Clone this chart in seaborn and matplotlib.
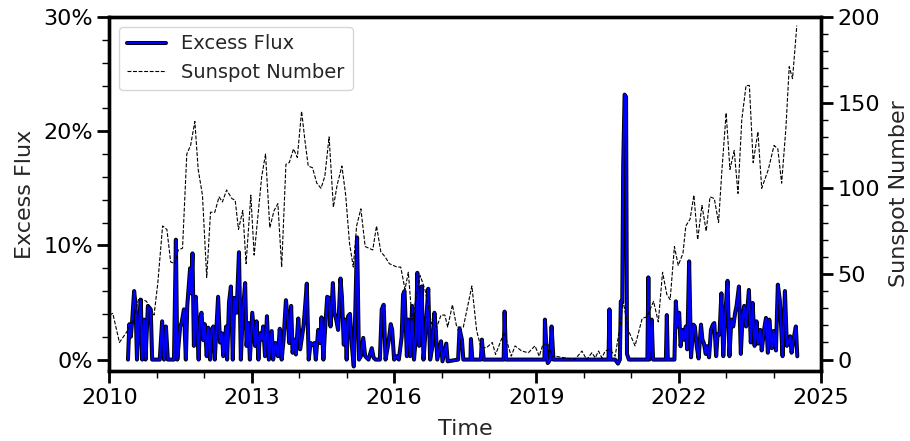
import numpy as np
import pandas as pd
import matplotlib
matplotlib.use("Agg")
import matplotlib.pyplot as plt
import matplotlib.ticker as mticker
import matplotlib.patheffects as pe
import seaborn as sns

# Excess flux (percent) versus decimal year
flux_time = [
    2010.39, 2010.42, 2010.45, 2010.48, 2010.52, 2010.55, 2010.58, 2010.61, 2010.66, 2010.69,
    2010.73, 2010.76, 2010.81, 2010.87, 2010.90, 2011.06, 2011.11, 2011.15, 2011.19, 2011.23,
    2011.36, 2011.40, 2011.43, 2011.49, 2011.52, 2011.57, 2011.61, 2011.64, 2011.67, 2011.70,
    2011.72, 2011.75, 2011.78, 2011.82, 2011.85, 2011.88, 2011.91, 2011.94, 2011.98, 2012.01,
    2012.05, 2012.08, 2012.12, 2012.15, 2012.19, 2012.22, 2012.29, 2012.33, 2012.37, 2012.40,
    2012.46, 2012.48, 2012.52, 2012.56, 2012.60, 2012.63, 2012.68, 2012.73, 2012.77, 2012.81,
    2012.86, 2012.89, 2012.93, 2012.96, 2013.01, 2013.07,
    2013.10, 2013.14, 2013.17, 2013.21, 2013.24, 2013.28, 2013.32, 2013.36, 2013.42, 2013.45,
    2013.50, 2013.55, 2013.59, 2013.63, 2013.67, 2013.72, 2013.76, 2013.79, 2013.83, 2013.86,
    2013.90, 2013.93, 2013.98, 2014.02, 2014.05, 2014.09, 2014.12, 2014.16, 2014.20, 2014.24,
    2014.28, 2014.32, 2014.35, 2014.40, 2014.44, 2014.47, 2014.51, 2014.54, 2014.59, 2014.63,
    2014.66, 2014.71, 2014.74, 2014.78, 2014.82, 2014.87, 2014.90, 2014.94, 2014.97, 2015.00,
    2015.03, 2015.07, 2015.11, 2015.15, 2015.18, 2015.22, 2015.26, 2015.30, 2015.35, 2015.39,
    2015.46, 2015.53, 2015.57, 2015.61, 2015.70, 2015.74, 2015.78, 2015.82, 2015.88, 2015.93,
    2015.96, 2016.00, 2016.06, 2016.10, 2016.16, 2016.19,
    2016.22, 2016.27, 2016.30, 2016.34, 2016.38, 2016.42, 2016.46, 2016.49, 2016.53, 2016.58,
    2016.62, 2016.67, 2016.72, 2016.76, 2016.81, 2016.85, 2016.88, 2016.91, 2016.99, 2017.02,
    2017.10, 2017.13, 2017.35, 2017.38, 2017.43, 2017.46, 2017.61, 2017.62, 2017.65, 2017.83,
    2017.85, 2017.89, 2018.31, 2018.33, 2018.36, 2019.17, 2019.18, 2019.22, 2019.24, 2019.29,
    2019.32, 2019.36, 2020.52, 2020.54, 2020.56, 2020.66, 2020.72, 2020.76, 2020.78, 2020.81,
    2020.83, 2020.86, 2020.89, 2020.91, 2020.95, 2021.34, 2021.36, 2021.38, 2021.43, 2021.46,
    2021.73, 2021.75, 2021.77, 2021.91,
    2021.94, 2021.97, 2022.01, 2022.04, 2022.08, 2022.11, 2022.15, 2022.18, 2022.22, 2022.26,
    2022.31, 2022.34, 2022.38, 2022.42, 2022.47, 2022.50, 2022.53, 2022.57, 2022.60, 2022.64,
    2022.68, 2022.72, 2022.75, 2022.79, 2022.82, 2022.86, 2022.90, 2022.94, 2022.98, 2023.03,
    2023.07, 2023.11, 2023.15, 2023.19, 2023.22, 2023.27, 2023.31, 2023.34, 2023.38, 2023.42,
    2023.48, 2023.52, 2023.56, 2023.60, 2023.64, 2023.67, 2023.72, 2023.75, 2023.80, 2023.84,
    2023.88, 2023.91, 2023.96, 2024.00, 2024.05, 2024.09, 2024.13, 2024.16, 2024.19, 2024.24,
    2024.28, 2024.31, 2024.35, 2024.38, 2024.42, 2024.47, 2024.50,
]
flux_pct = [
    0, 3.1, 2.0, 3.5, 6.0, 4.8, 0, 2.6, 5.25, 0,
    3.5, 0, 4.7, 4.4, 0, 0, 3.35, 0, 2.9, 0,
    0, 10.5, 0, 2.9, 3.2, 4.4, 0, 4.7, 6.4, 8.0,
    5.8, 9.3, 1.2, 5.5, 2.6, 0, 3.6, 4.1, 1.7, 3.1,
    0.3, 2.8, 0, 2.6, 2.9, 0, 5.5, 1.5, 2.3, 0.3,
    2.9, 0, 5.0, 6.4, 0, 5.4, 4.1, 9.4, 0, 4.1,
    6.7, 1.2, 3.2, 0, 4.1, 1.2,
    3.35, 0, 2.3, 1.75, 2.9, 0.3, 3.8, 0, 2.5, 0,
    1.45, 0.3, 2.7, 0, 1.75, 5.2, 3.5, 1.45, 4.7, 0.6,
    1.75, 0.45, 3.6, 0.9, 1.75, 2.9, 4.4, 6.65, 0, 1.45,
    1.3, 1.45, 0, 2.6, 1.45, 3.7, 0, 2.3, 5.5, 5.4,
    2.9, 6.7, 4.1, 3.5, 2.6, 7.1, 5.5, 1.3, 3.5, 0,
    3.8, 4.0, 1.2, -0.6, 3.9, 10.7, 0, 0.3, 1.9, 0.3,
    0, 1.0, 0.15, 0, 0, 4.4, 4.8, 0, 1.45, 3.1,
    2.6, 0, 0.3, 0, 2.0, 5.7,
    6.0, 0.3, 3.5, 0.3, 4.7, 0, 2.0, 7.6, 1.2, 6.4,
    0, 2.9, 6.2, 0, 1.2, 4.1, 2.6, 0, 1.6, -0.15,
    1.4, -0.15, 0, 2.7, 1.75, 0, 0, 1.8, 0, 0,
    1.75, 0, 0, 4.2, 0, 0, 3.5, 0.3, -0.3, 0,
    2.9, 0, 0, 4.4, 0, 0, -0.35, 0, 5.1, 5.0,
    17.0, 23.2, 23.0, 0.5, 0, 0, 7.2, 0, 3.5, 0,
    0, 3.9, 0, 0,
    5.1, 2.9, 4.1, 1.17, 2.6, 1.75, 2.9, 0.9, 8.6, 0.2,
    3.06, 2.9, 1.17, 0.1, 3.06, 1.75, 1.46, 0.5, 1.17, 0.2,
    2.6, 3.06, 3.2, 0.3, 2.2, 2.2, 5.8, 0.3, 3.8, 6.9,
    0.3, 3.5, 2.9, 4.1, 4.7, 6.4, 0.5, 3.2, 4.7, 2.9,
    6.1, 1.5, 4.96, 1.2, 3.35, 1.4, 2.6, 0.8, 2.6, 3.65,
    0.6, 3.5, 1.0, 2.5, 0.8, 6.56, 5.25, 2.9, 0.3, 6.0,
    1.2, 1.46, 2.04, 0.6, 1.75, 2.9, 0.29,
]

# Sunspot number versus decimal year
ssn_time = [
    2010.00, 2010.07, 2010.21, 2010.36, 2010.50, 2010.62, 2010.78, 2010.94, 2011.02, 2011.12,
    2011.21, 2011.29, 2011.38, 2011.45, 2011.54, 2011.63, 2011.71, 2011.80, 2011.87, 2011.96,
    2012.05, 2012.13, 2012.22, 2012.31, 2012.38, 2012.47, 2012.58, 2012.65, 2012.72, 2012.81,
    2012.88, 2012.98, 2013.05, 2013.21, 2013.29, 2013.38, 2013.47, 2013.55, 2013.63, 2013.72,
    2013.79, 2013.88, 2013.96, 2014.05, 2014.12, 2014.19, 2014.28, 2014.37, 2014.46, 2014.54,
    2014.63, 2014.72, 2014.80, 2014.90, 2014.98, 2015.06, 2015.14, 2015.21, 2015.30, 2015.39,
    2015.55, 2015.63, 2015.72, 2015.81, 2015.90, 2016.06, 2016.14, 2016.23, 2016.30, 2016.38,
    2016.55, 2016.65, 2016.79, 2016.90, 2016.99, 2017.07, 2017.13, 2017.23, 2017.32, 2017.46,
    2017.64, 2017.74, 2017.83, 2017.95, 2018.07, 2018.14, 2018.32, 2018.47, 2018.55, 2018.69,
    2018.83, 2018.97, 2019.06, 2019.14, 2019.25, 2019.33, 2019.39, 2019.60, 2019.81, 2019.96,
    2020.06, 2020.17, 2020.24, 2020.31, 2020.38, 2020.45, 2020.55, 2020.66, 2020.76, 2020.83,
    2020.94, 2021.08, 2021.23, 2021.33, 2021.47, 2021.57, 2021.66, 2021.75, 2021.82, 2021.91,
    2021.99, 2022.09, 2022.15, 2022.24, 2022.32, 2022.40, 2022.49, 2022.58, 2022.66, 2022.75,
    2022.84, 2022.91, 2023.00, 2023.08, 2023.17, 2023.25, 2023.33, 2023.42, 2023.49, 2023.57,
    2023.67, 2023.75, 2023.89, 2024.01, 2024.09, 2024.17, 2024.26, 2024.33, 2024.40, 2024.49,
]
ssn_value = [
    26, 27, 10, 16, 23, 36, 34, 26, 45, 78,
    76, 57, 56, 64, 65, 120, 125, 139, 111, 96,
    48, 86, 86, 95, 92, 99, 94, 93, 76, 87,
    56, 96, 61, 107, 120, 77, 87, 91, 54, 114,
    115, 123, 118, 145, 128, 113, 112, 103, 100, 107,
    130, 89, 102, 113, 96, 68, 54, 78, 88, 66,
    64, 78, 63, 60, 56, 54, 54, 41, 51, 23,
    49, 41, 21, 19, 26, 26, 19, 32, 19, 19,
    43, 17, 7, 7, 10, 3, 16, 2, 8, 5,
    4, 8, 2, 9, 9, 2, 2, 1, 0, 5,
    0, 4, 1, 5, 1, 5, 6, 2, 19, 34,
    17, 8, 24, 25, 34, 22, 51, 38, 35, 66,
    55, 62, 78, 82, 96, 70, 90, 75, 95, 94,
    80, 110, 144, 111, 122, 97, 140, 160, 160, 115,
    133, 100, 111, 125, 123, 103, 135, 171, 164, 195,
]

flux_df = pd.DataFrame({"Time": flux_time, "Excess Flux": flux_pct})
ssn_df = pd.DataFrame({"Time": ssn_time, "Sunspot Number": ssn_value})

sns.set_style("ticks")
plt.rcParams["font.family"] = ["DejaVu Sans"]

fig = plt.figure(figsize=(9.10, 4.41), dpi=100)
ax = fig.add_axes([0.1203, 0.1587, 0.7819, 0.8028])
ax2 = ax.twinx()

sns.lineplot(data=flux_df, x="Time", y="Excess Flux", ax=ax, color="blue",
             linewidth=1.5, estimator=None, sort=False, label="Excess Flux", legend=False,
             path_effects=[pe.Stroke(linewidth=2.9, foreground="black"), pe.Normal()])
sns.lineplot(data=ssn_df, x="Time", y="Sunspot Number", ax=ax2, color="black",
             linewidth=0.8, linestyle=(0, (3.5, 1.5)), estimator=None, sort=False,
             label="Sunspot Number", legend=False)

ax.set_xlim(2010, 2025)
ax.set_ylim(-1, 30)
ax2.set_ylim(-200 / 30, 200)

ax.xaxis.set_major_locator(mticker.MultipleLocator(3))
ax.xaxis.set_minor_locator(mticker.MultipleLocator(1))
ax.xaxis.set_major_formatter(mticker.FormatStrFormatter("%d"))
ax.yaxis.set_major_locator(mticker.MultipleLocator(10))
ax.yaxis.set_minor_locator(mticker.MultipleLocator(2))
ax.yaxis.set_major_formatter(mticker.PercentFormatter(xmax=100, decimals=0))
ax2.yaxis.set_major_locator(mticker.MultipleLocator(50))
ax2.yaxis.set_minor_locator(mticker.MultipleLocator(10))

for a in (ax, ax2):
    a.tick_params(which="major", direction="out", length=8.5, width=2, labelsize=16, colors="black")
    a.tick_params(which="minor", direction="out", length=5, width=1, colors="black")
    for sp in a.spines.values():
        sp.set_linewidth(2.4)
        sp.set_color("black")

ax.set_xlabel("Time", fontsize=16, labelpad=8)
ax.set_ylabel("Excess Flux", fontsize=16, labelpad=6)
ax2.set_ylabel("Sunspot Number", fontsize=16, labelpad=6)

h1, l1 = ax.get_legend_handles_labels()
h2, l2 = ax2.get_legend_handles_labels()
ax2.legend(h1 + h2, l1 + l2, loc="upper left", fontsize=14, frameon=True)

fig.savefig("out.png", dpi=100)
